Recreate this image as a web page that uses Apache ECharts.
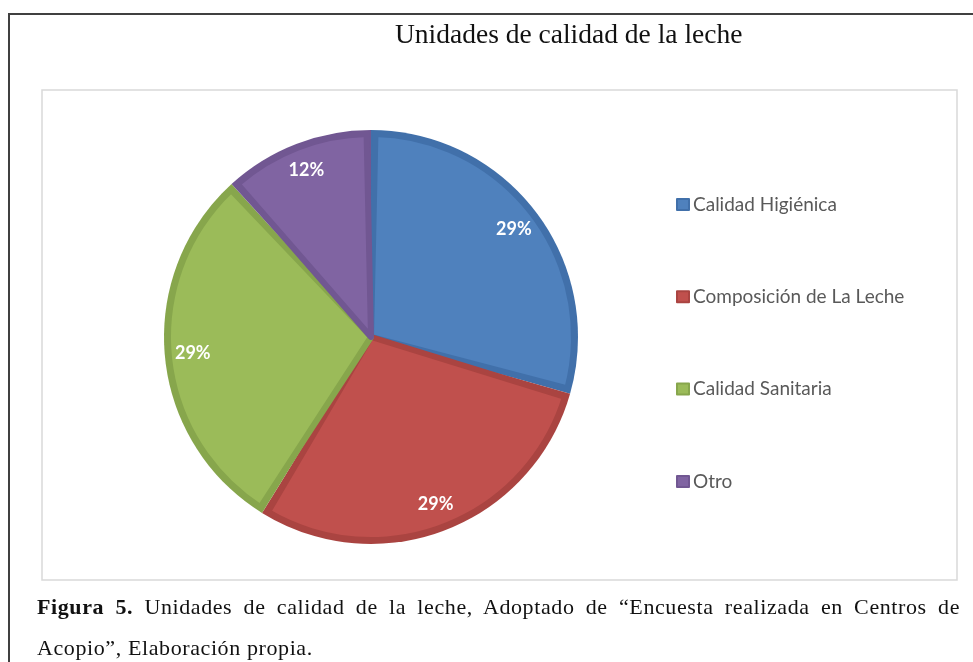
<!DOCTYPE html>
<html>
<head>
<meta charset="utf-8">
<script src="https://cdn.jsdelivr.net/npm/echarts@6/dist/echarts.min.js"></script>
<style>
  html, body { margin: 0; padding: 0; background: #fff; }
  #chart { position: absolute; left: 0; top: 0; width: 973px; height: 662px; }
  .caption {
    position: absolute; left: 37px; top: 586px; width: 923px;
    font-family: "Liberation Serif", serif; font-size: 22px; line-height: 41px;
    letter-spacing: 0.6px; color: #111;
  }
  .caption .l1 { text-align: justify; text-align-last: justify; }
</style>
</head>
<body>
<div id="chart"></div>
<div class="caption">
  <div class="l1"><b>Figura 5.</b> Unidades de calidad de la leche, Adoptado de “Encuesta realizada en Centros de</div>
  <div>Acopio”, Elaboración propia.</div>
</div>
<script>
// datos
const categories = ['Calidad Higiénica', 'Composición de La Leche', 'Calidad Sanitaria', 'Otro']
const values = [5, 5, 5, 2]
const colors = ['#4f81bd', '#c0504d', '#9bbb59', '#8064a2']
const borders = ['#4170aa', '#aa4441', '#87a64c', '#715792']

const chart = echarts.init(document.getElementById('chart'), null, { renderer: 'canvas' })

const common = {
  type: 'pie',
  center: [371, 337],
  startAngle: 90,
  clockwise: true,
  silent: true,
  label: { show: false },
  labelLine: { show: false }
}

const option = {
  animation: false,
  title: {
    text: 'Unidades de calidad de la leche',
    left: 390,
    top: 17,
    textStyle: { fontFamily: 'Liberation Serif', fontSize: 27.5, fontWeight: 'normal', color: '#111' }
  },
  legend: {
    orient: 'vertical',
    left: 676,
    top: 195,
    padding: 0,
    itemWidth: 12,
    itemHeight: 11,
    itemGap: 73.3,
    icon: 'rect',
    data: categories,
    textStyle: { fontFamily: 'Lato', fontSize: 19, color: '#595959', padding: [0, 0, 0, -1] }
  },
  graphic: [
    { type: 'line', shape: { x1: 8, y1: 14, x2: 973, y2: 14 }, style: { stroke: '#404040', lineWidth: 2 } },
    { type: 'line', shape: { x1: 9, y1: 13, x2: 9, y2: 662 }, style: { stroke: '#404040', lineWidth: 2 } },
    { type: 'rect', shape: { x: 42, y: 90, width: 915, height: 490 }, style: { fill: 'none', stroke: '#d9d9d9', lineWidth: 1.5 } }
  ],
  series: [
    {
      // relleno interior de cada porción
      ...common,
      z: 3,
      radius: 203,
      padAngle: 2.5,
      data: categories.map((name, i) => ({
        name, value: values[i],
        itemStyle: { color: colors[i], borderColor: borders[i], borderWidth: 6 }
      }))
    },
    {
      // banda más oscura del borde
      ...common,
      z: 2,
      radius: 207,
      data: categories.map((name, i) => ({ name, value: values[i], itemStyle: { color: borders[i] } }))
    },
    {
      // sólo etiquetas, más cerca del borde
      ...common,
      z: 4,
      radius: [145, 207],
      percentPrecision: 1,
      itemStyle: { color: 'rgba(0,0,0,0)' },
      label: {
        show: true,
        position: 'inside',
        formatter: p => Math.round(p.percent) + '%',
        fontFamily: 'Lato',
        fontWeight: 'bold',
        fontSize: 18,
        color: '#fff'
      },
      data: categories.map((name, i) => ({ name, value: values[i] }))
    }
  ]
}

chart.setOption(option)
</script>
</body>
</html>
